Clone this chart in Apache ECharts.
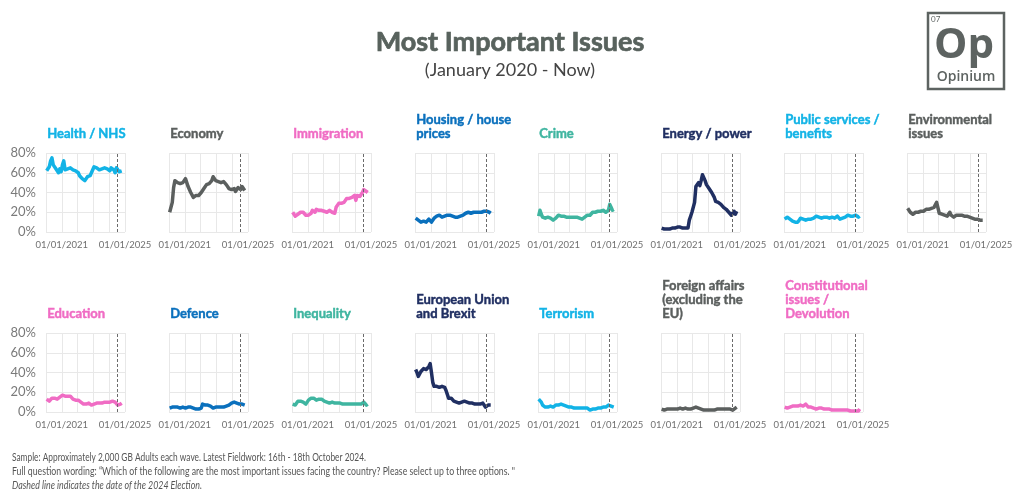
<!DOCTYPE html>
<html><head><meta charset="utf-8">
<script src="https://cdn.jsdelivr.net/npm/echarts@6/dist/echarts.min.js"></script>
<style>html,body{margin:0;padding:0;background:#fff}#c{width:1020px;height:502px}</style>
</head><body><div id="c"></div>
<script>
// Monthly waves, January 2020 to October 2024 (values in %)
const startYear = 2020;
const waveCount = 58;
const xTickYears = [2021, 2025];
const yTicks = [0, 20, 40, 60, 80];
const electionDate = 2024.51; // 4 July 2024

const titles = ['Health / NHS', 'Economy', 'Immigration', 'Housing / house\nprices', 'Crime', 'Energy / power',
  'Public services /\nbenefits', 'Environmental\nissues', 'Education', 'Defence', 'Inequality',
  'European Union\nand Brexit', 'Terrorism', 'Foreign affairs\n(excluding the\nEU)', 'Constitutional\nissues /\nDevolution'];

const health = [62,63,66,72,75,68,66,64,62,60,64,61, 68,72,63,61,64,66,65,63,63,64,62,64, 60,57,55,54,53,52,54,56,58,57,60,62, 66,67,65,64,63,65,64,64,65,64,64,63, 62,65,67,63,60,65,64,61,63,62];
const economy = [20,22,30,45,52,51,50,50,49,48,50,52, 54,50,46,43,40,38,35,34,37,38,37,38, 40,42,44,46,48,49,49,50,52,56,54,52, 52,51,50,50,49,51,50,48,46,44,43,43, 42,44,41,43,45,47,43,46,44,42];
const immigration = [20,18,16,17,18,19,20,22,20,18,17,18, 17,18,19,22,21,20,23,25,22,21,22,23, 21,20,20,21,22,21,20,19,19,25,27,29, 30,29,28,30,32,34,34,34,35,35,36,37, 32,37,38,36,37,40,43,42,41,40];
const housing = [14,13,12,11,10,9,11,12,10,12,13,11, 10,12,14,15,16,16,17,16,15,15,16,17, 17,16,17,17,16,15,15,14,15,16,16,17, 17,18,19,21,20,19,19,20,20,20,20,21, 20,21,20,22,21,20,21,19,20,19];
const crime = [16,22,18,15,14,14,14,15,15,14,13,12, 13,14,15,17,17,16,16,16,15,15,15,15, 15,15,15,15,15,15,15,14,14,13,14,15, 15,17,18,17,19,20,20,20,20,21,21,21, 20,22,23,20,18,22,28,25,22,23];
const energy = [4,3,3,3,3,3,3,4,4,4,4,4, 5,5,5,4,4,4,4,4,4,12,16,20, 22,30,46,48,50,47,52,58,56,52,48,46, 44,42,40,38,35,31,30,30,30,28,26,25, 24,23,22,20,18,17,15,21,18,21];
const publicServices = [13,14,15,15,13,12,11,10,10,9,10,11, 14,15,13,12,12,13,13,14,13,14,14,15, 16,15,15,14,14,14,15,17,15,14,14,14, 15,15,14,16,16,14,13,13,14,15,15,16, 17,15,16,18,16,15,17,16,15,16];
const environment = [24,23,20,19,18,19,20,19,20,22,21,21, 21,22,23,24,23,24,24,25,25,26,30,28, 19,18,18,17,17,16,16,16,20,17,15,15, 16,17,17,17,16,17,17,16,17,16,15,15, 15,14,13,13,14,13,14,12,13,12];
const education = [13,12,11,13,14,14,14,14,13,14,15,16, 17,18,16,15,16,17,16,14,13,12,12,12, 12,11,10,9,8,8,8,9,9,8,7,8, 8,9,9,9,9,10,9,9,10,10,10,10, 10,9,11,12,10,8,7,9,8,9];
const defence = [4,4,5,5,5,6,5,4,4,5,5,5, 4,4,5,6,5,4,4,3,3,3,3,3, 4,8,8,7,6,7,7,6,5,4,5,5, 5,5,5,5,5,5,5,6,6,7,8,9, 9,10,8,9,10,8,6,8,7,7];
const inequality = [8,8,7,9,11,12,11,10,10,9,8,10, 12,13,14,15,14,13,12,13,13,14,13,12, 11,11,10,9,9,10,10,9,9,8,9,9, 9,8,8,9,8,8,8,8,8,8,8,8, 8,8,8,8,8,8,10,8,7,8];
const brexit = [43,40,36,38,41,42,44,45,43,44,46,49, 40,30,26,25,26,26,25,25,26,26,25,22, 20,14,12,14,13,11,10,10,9,9,10,10, 10,11,11,10,9,9,9,9,9,8,8,8, 7,8,8,9,7,5,6,7,5,7];
const terrorism = [13,12,10,7,5,5,5,5,6,6,7,5, 6,7,7,7,8,8,8,7,7,6,6,5, 5,5,4,4,4,4,4,4,4,4,4,4, 5,4,3,2,2,3,3,3,3,4,4,4, 4,5,6,5,3,7,5,6,4,5];
const foreign = [3,3,2,2,3,3,3,3,3,3,3,4, 3,4,4,3,3,4,4,4,3,3,3,3, 4,5,5,4,4,3,3,2,2,2,2,2, 2,2,2,2,2,2,3,3,3,3,3,3, 3,3,3,2,3,3,2,3,4,5];
const constitutional = [5,5,4,4,5,6,6,6,6,6,6,6, 7,7,6,7,8,6,5,5,5,4,4,4, 3,3,4,4,4,3,3,3,3,3,3,2, 2,2,2,2,2,2,2,2,2,2,2,2, 2,1,1,1,1,1,1,1,1,3];

const seriesData = [health, economy, immigration, housing, crime, energy, publicServices, environment,
  education, defence, inequality, brexit, terrorism, foreign, constitutional];

const footnotes = [
  'Sample: Approximately 2,000 GB Adults each wave. Latest Fieldwork: 16th - 18th October 2024.',
  'Full question wording: \u201cWhich of the following are the most important issues facing the country? Please select up to three options. "',
  'Dashed line indicates the date of the 2024 Election.'
];

// styling
const C = { blue:'#12b3e6', gray:'#5b5f5e', pink:'#f06cc4', mid:'#0a70bd', teal:'#3fb5a0', navy:'#202f62' };
const colors = [C.blue, C.gray, C.pink, C.mid, C.teal, C.navy, C.blue, C.gray,
  C.pink, C.mid, C.teal, C.navy, C.blue, C.gray, C.pink];

const waveX = [];
for (let i = 0; i < waveCount; i++) waveX.push(startYear + i / 12 + 1 / 24);

const FONT = 'Lato';
const measure = (() => { const c = document.createElement('canvas').getContext('2d'); return (t, f) => { c.font = f; return c.measureText(t).width; }; })();

const grids = [], xAxes = [], yAxes = [], series = [], graphics = [];
seriesData.forEach((vals, i) => {
  const row = Math.floor(i / 8), col = i % 8;
  const left = 46 + 123 * col, top = row === 0 ? 153 : 333;
  grids.push({ left: left, top: top, width: 79, height: 79 });
  xAxes.push({
    type: 'value', gridIndex: i, min: 2020, max: 2025, interval: 1,
    axisLine: { show: false }, axisTick: { show: false },
    splitLine: { show: true, lineStyle: { color: '#e8e8e8', width: 1 } },
    axisLabel: { show: true, margin: 8, fontFamily: FONT, fontSize: 9.5, color: '#707070',
      formatter: v => xTickYears.includes(Math.round(v)) ? '01/01/' + Math.round(v) : '' }
  });
  yAxes.push({
    type: 'value', gridIndex: i, min: 0, max: 80, interval: 20,
    axisLine: { show: false }, axisTick: { show: false },
    splitLine: { show: true, lineStyle: { color: '#e8e8e8', width: 1 } },
    axisLabel: { show: col === 0, margin: 10, fontFamily: FONT, fontSize: 13, color: '#7a7a7a',
      formatter: v => yTicks.includes(v) ? v + '%' : '' }
  });
  series.push({
    type: 'line', xAxisIndex: i, yAxisIndex: i, showSymbol: false, symbol: 'none',
    data: vals.map((v, k) => [waveX[k], v]),
    lineStyle: { color: colors[i], width: 3.5, join: 'round' },
    animation: false,
    markLine: { silent: true, symbol: 'none', label: { show: false }, animation: false,
      lineStyle: { type: [3, 2], color: '#6a6a6a', width: 1 },
      data: [{ xAxis: electionDate }] }
  });
  graphics.push({
    type: 'text', left: left + 1, bottom: 502 - (row === 0 ? 141 : 321),
    style: { text: titles[i], fill: colors[i], stroke: colors[i], lineWidth: 0.45,
      font: 'bold 13px ' + FONT, lineHeight: 14, verticalAlign: 'bottom' }
  });
});

// footer, fitted to the reference's line lengths
const footFonts = ['11px ' + FONT, '11px ' + FONT, 'italic 11px ' + FONT];
const footWidths = [354, 503, 190];
footnotes.forEach((t, k) => {
  graphics.push({ type: 'text', x: 12, y: 457 + 14 * k, scaleX: footWidths[k] / measure(t, footFonts[k]),
    style: { text: t, fill: '#555', font: footFonts[k], verticalAlign: 'middle' } });
});

// header, logo
graphics.push(
  { type: 'text', x: 510, y: 42, style: { text: 'Most Important Issues', fill: '#58625d', stroke: '#58625d', lineWidth: 0.7, font: 'bold 27px ' + FONT, align: 'center', verticalAlign: 'middle' } },
  { type: 'text', x: 510, y: 70, style: { text: '(January 2020 - Now)', fill: '#444', font: '18px ' + FONT, align: 'center', verticalAlign: 'middle' } },
  { type: 'rect', shape: { x: 928, y: 13, width: 76, height: 76 }, style: { fill: 'none', stroke: '#5d6361', lineWidth: 2.5 } },
  { type: 'text', x: 931, y: 19, style: { text: '07', fill: '#5d6361', font: '8px ' + FONT, verticalAlign: 'middle' } },
  { type: 'text', x: 964, y: 46, style: { text: 'Op', fill: '#5d6361', font: 'bold 42px "Open Sans"', align: 'center', verticalAlign: 'middle' } },
  { type: 'text', x: 966, y: 77, style: { text: 'Opinium', fill: '#5d6361', font: '600 14px "Open Sans"', align: 'center', verticalAlign: 'middle' } }
);

const chart = echarts.init(document.getElementById('c'), null, { renderer: 'canvas' });
chart.setOption({ animation: false, grid: grids, xAxis: xAxes, yAxis: yAxes, series: series, graphic: graphics });
</script></body></html>
